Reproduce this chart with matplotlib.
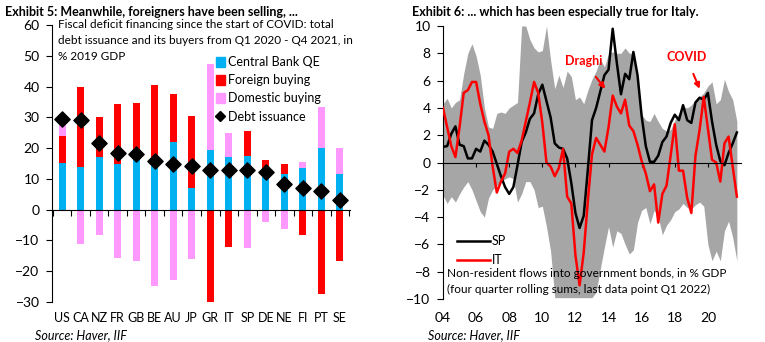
import numpy as np
import matplotlib
matplotlib.use("Agg")
import matplotlib.pyplot as plt
from matplotlib.patches import Patch
from matplotlib.lines import Line2D
import matplotlib.transforms as mtrans

plt.rcParams['font.family'] = ['Lato', 'DejaVu Sans']

# ---------------- Exhibit 5 data ----------------
countries = ["US", "CA", "NZ", "FR", "GB", "BE", "AU", "JP", "GR", "IT", "SP", "DE", "NE", "FI", "PT", "SE"]
cb_qe = [15.3, 14.0, 17.2, 15.0, 16.3, 15.0, 22.0, 7.0, 19.5, 17.0, 17.5, 13.5, 11.5, 13.7, 20.0, 11.7]
foreign = [8.7, 26.0, 12.8, 19.3, 18.3, 25.6, 15.6, 23.3, -30.5, -12.0, 7.9, 2.5, 3.2, -8.2, -27.5, -16.8]
domestic = [5.0, -11.3, -8.3, -15.8, -16.8, -24.9, -23.0, -16.0, 27.8, 8.0, -12.5, -3.9, -6.2, 1.7, 13.5, 8.3]
debt_issuance = [29.3, 29.0, 21.7, 18.5, 18.0, 15.7, 14.8, 14.3, 13.0, 13.0, 13.0, 12.3, 8.5, 7.2, 6.0, 3.3]

# ---------------- Exhibit 6 data (quarterly, 2004Q1 - 2021Q4) ----------------
sp = [1.15, 1.2, 2.1, 2.65, 1.3, 1.2, 0.3, 0.3, 1.0, 0.8, 1.6, 1.3, 0.8, -0.1, -1.0, -1.8,
      -2.3, -1.8, -0.2, 1.5, 2.2, 3.2, 3.6, 5.0, 5.7, 4.5, 3.3, 1.4, 1.1, 1.0, 0.3, -1.5,
      -3.7, -4.8, -3.9, -0.5, 3.1, 4.0, 5.2, 6.4, 6.8, 9.8, 7.3, 5.0, 6.5, 6.1, 8.1, 6.4,
      3.4, 1.2, 0.05, 0.05, 0.5, 1.5, 1.9, 2.9, 3.5, 3.1, 4.2, 3.1, 2.9, 4.4, 4.75, 4.6,
      5.1, 3.0, 1.3, 0.1, -0.2, 0.7, 1.4, 2.2]
it = [4.0, 2.6, 1.2, 0.4, 2.6, 5.1, 5.3, 5.9, 5.9, 4.3, 3.0, 2.0, -0.3, -2.2, -1.4, -0.8,
      0.8, 1.0, 0.7, 1.6, 3.0, 4.4, 5.9, 5.1, 2.9, 0.0, -0.3, -1.0, -0.4, 1.0, -2.5, -3.0,
      -6.8, -9.0, -6.6, -2.8, 0.6, 1.8, 1.3, 0.8, 2.6, 4.9, 4.1, 3.6, 4.6, 2.7, 2.3, 1.3,
      0.1, -0.8, -2.1, -1.6, -4.4, -2.3, -1.7, 0.5, 2.8, -0.6, -0.6, -2.6, -3.7, 0.5, 2.4, 4.8,
      2.5, 0.2, 0.0, -1.4, 1.4, 1.9, -0.3, -2.5]
band_hi = [4.3, 4.7, 4.0, 4.4, 4.6, 6.5, 8.0, 8.7, 7.8, 6.4, 4.0, 2.6, 2.5, 3.6, 3.7, 3.6,
           4.0, 4.2, 4.4, 10.0, 10.0, 9.0, 8.4, 8.1, 8.2, 10.0, 7.5, 5.4, 6.4, 5.5, 6.7, 6.3,
           4.6, 4.8, 4.3, 5.3, 6.1, 6.7, 7.6, 7.0, 8.0, 8.1, 8.0, 8.0, 8.4, 8.0, 8.0, 6.0,
           3.5, 3.1, 3.0, 3.6, 3.0, 2.5, 2.3, 2.4, 3.1, 3.6, 4.1, 4.0, 4.2, 4.6, 4.8, 5.1,
           5.6, 5.9, 4.3, 4.6, 6.1, 5.2, 4.6, 3.0]
band_lo = [-2.4, -3.0, -2.5, -2.9, -2.3, -1.8, -1.4, -2.0, -2.8, -3.6, -4.0, -2.6, -2.0, -1.7, -1.4, -1.2,
           -1.05, -1.2, -2.9, -2.3, -1.4, -1.4, -2.0, -3.3, -3.2, -4.7, -6.5, -9.9, -9.9, -9.9, -9.9, -9.9,
           -9.9, -9.9, -9.9, -9.9, -9.9, -9.5, -7.8, -6.2, -4.7, -6.2, -5.0, -5.2, -6.0, -6.7, -6.4, -4.4,
           -3.5, -3.3, -4.5, -3.5, -4.0, -5.3, -4.6, -4.2, -3.6, -3.4, -3.0, -3.3, -3.4, -3.1, -2.9, -3.2,
           -6.0, -7.2, -6.5, -7.2, -5.0, -4.3, -5.5, -7.2]
year_ticks = ["04", "06", "08", "10", "12", "14", "16", "18", "20"]

BLUE = "#00B0F0"
RED = "#FF0000"
PINK = "#FF99FF"
GREY = "#A6A6A6"

W, H = 765, 342
fig = plt.figure(figsize=(W / 100, H / 100), dpi=100)

def fx(px):
    return px / W

def fy(py):
    return 1 - py / H

# ================= Left chart =================
ax1 = fig.add_axes([fx(52), fy(302), fx(350) - fx(52), fy(25) - fy(302)])
x = np.arange(len(countries))
cb = np.array(cb_qe)
fo = np.array(foreign)
do = np.array(domestic)
bw = 0.38

pos_base = np.zeros(len(x))
neg_base = np.zeros(len(x))
for vals, col in [(cb, BLUE), (fo, RED), (do, PINK)]:
    pos = np.where(vals > 0, vals, 0)
    neg = np.where(vals < 0, vals, 0)
    ax1.bar(x, pos, bw, bottom=pos_base, color=col, linewidth=0, zorder=2)
    ax1.bar(x, neg, bw, bottom=neg_base, color=col, linewidth=0, zorder=2)
    pos_base = pos_base + pos
    neg_base = neg_base + neg

ax1.scatter(x, debt_issuance, marker="D", s=60, color="black", zorder=4)

ax1.set_xlim(-0.55, len(x) - 0.45)
ax1.set_ylim(-30, 60)
ax1.set_yticks(np.arange(-30, 61, 10))
ax1.tick_params(axis="y", direction="out", length=4, width=0.8, labelsize=10, pad=5)
for s in ["top", "right"]:
    ax1.spines[s].set_visible(False)
ax1.spines["bottom"].set_position(("data", 0))
ax1.spines["left"].set_linewidth(0.8)
ax1.spines["bottom"].set_linewidth(0.8)
ax1.set_xticks(np.arange(len(x) + 1) - 0.5)
ax1.set_xticklabels([])
ax1.tick_params(axis="x", direction="out", length=4, width=0.8)
tr1 = mtrans.blended_transform_factory(ax1.transData, ax1.transAxes)
for xi, c in zip(x, countries):
    ax1.text(xi, -0.057, c, transform=tr1, ha="center", va="center", fontsize=9)

fig.text(fx(5), fy(12), "Exhibit 5: Meanwhile, foreigners have been selling, ...",
         fontsize=9, fontweight="bold", ha="left", va="center")
sub_lines = ["Fiscal deficit financing since the start of COVID: total",
             "debt issuance and its buyers from Q1 2020 - Q4 2021, in",
             "% 2019 GDP"]
for i, line in enumerate(sub_lines):
    fig.text(fx(58), fy(25 + 16 * i), line, fontsize=8.5, ha="left", va="center")
fig.text(fx(35), fy(335), "Source: Haver, IIF", fontsize=9, style="italic", ha="left", va="center")

handles = [Patch(color=BLUE), Patch(color=RED), Patch(color=PINK),
           Line2D([], [], marker="D", color="black", linestyle="none", markersize=5)]
labels = ["Central Bank QE", "Foreign buying", "Domestic buying", "Debt issuance"]
fig.legend(handles, labels, loc="upper left", bbox_to_anchor=(fx(216), fy(56)),
           frameon=False, fontsize=9, handlelength=0.7, handleheight=0.9,
           handletextpad=0.3, labelspacing=0.5, borderpad=0, borderaxespad=0)

# ================= Right chart =================
ax2 = fig.add_axes([fx(443), fy(299), fx(741) - fx(443), fy(26) - fy(299)])
t = 2004 + 0.25 * np.arange(len(sp))
ax2.fill_between(t, band_lo, band_hi, color=GREY, linewidth=0, zorder=1)
ax2.plot(t, sp, color="black", lw=1.8, zorder=3, label="SP")
ax2.plot(t, it, color=RED, lw=1.8, zorder=4, label="IT")
ax2.set_xlim(2004, 2022)
ax2.set_ylim(-10, 10)
ax2.set_yticks(np.arange(-10, 11, 2))
ax2.tick_params(axis="y", direction="out", length=4, width=0.8, labelsize=10, pad=5)
for s in ["top", "right"]:
    ax2.spines[s].set_visible(False)
ax2.spines["bottom"].set_position(("data", 0))
ax2.spines["bottom"].set_zorder(5)
ax2.spines["left"].set_linewidth(0.8)
ax2.spines["bottom"].set_linewidth(0.8)
yt = 2004 + 2 * np.arange(len(year_ticks))
ax2.set_xticks(yt)
ax2.set_xticklabels([])
ax2.tick_params(axis="x", direction="out", length=3, width=0.8)
tr2 = mtrans.blended_transform_factory(ax2.transData, ax2.transAxes)
for xv, lab in zip(yt, year_ticks):
    ax2.text(xv, -0.07, lab, transform=tr2, ha="center", va="center", fontsize=10)

ax2.legend(loc="upper left", bbox_to_anchor=(fx(457), fy(235)), bbox_transform=fig.transFigure,
           frameon=False, fontsize=9, handlelength=2.6, handletextpad=0.2, labelspacing=0.6,
           borderpad=0, borderaxespad=0)

ax2.text(0.012, 0.094, "Non-resident flows into government bonds, in % GDP",
         transform=ax2.transAxes, fontsize=8.5, ha="left", va="center", zorder=6)
ax2.text(0.012, 0.036, "(four quarter rolling sums, last data point Q1 2022)",
         transform=ax2.transAxes, fontsize=8.5, ha="left", va="center", zorder=6)

ax2.annotate("Draghi", xy=(2013.8, 5.4), xytext=(2012.5, 7.4), color=RED, fontsize=9,
             fontweight="bold", ha="center", va="center",
             arrowprops=dict(arrowstyle="-|>", color=RED, lw=1.5, shrinkA=6, shrinkB=0,
                             mutation_scale=8))
ax2.annotate("COVID", xy=(2019.5, 5.4), xytext=(2018.7, 7.7), color=RED, fontsize=9,
             fontweight="bold", ha="center", va="center",
             arrowprops=dict(arrowstyle="-|>", color=RED, lw=1.5, shrinkA=6, shrinkB=0,
                             mutation_scale=8))

fig.text(fx(412), fy(12), "Exhibit 6: ... which has been especially true for Italy.",
         fontsize=9, fontweight="bold", ha="left", va="center")
fig.text(fx(428), fy(335), "Source: Haver, IIF", fontsize=9, style="italic", ha="left", va="center")

fig.savefig("out.png", dpi=100)
